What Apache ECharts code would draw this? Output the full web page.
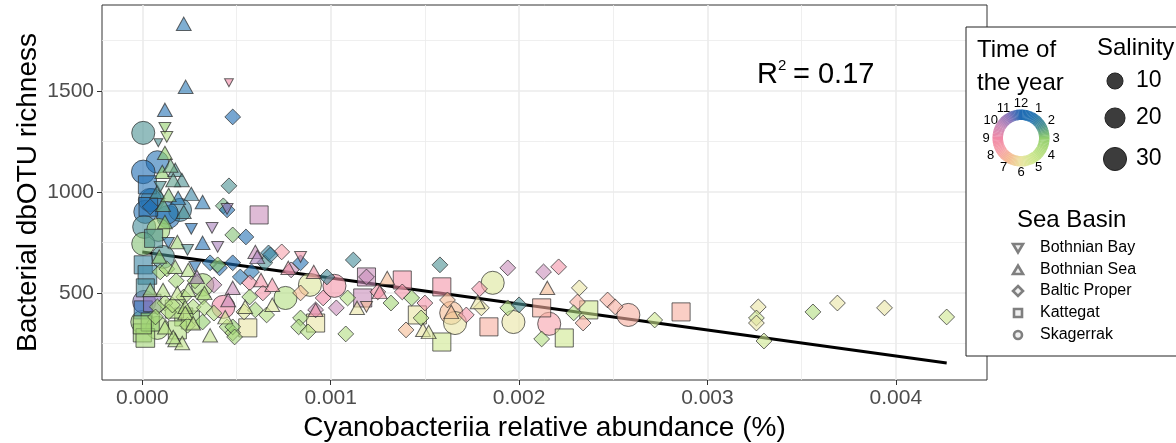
<!DOCTYPE html>
<html><head><meta charset="utf-8">
<script src="https://cdn.jsdelivr.net/npm/echarts@6/dist/echarts.min.js"></script>
<style>html,body{margin:0;padding:0;background:#fff}#c{width:1176px;height:443px}</style>
</head><body><div id="c"></div>
<script>
// ---------- axes ----------
const xRange = [-0.000214, 0.004484];
const yRange = [69, 1925];
const xTicks = [0, 0.001, 0.002, 0.003, 0.004];
const xTickLabels = ['0.000', '0.001', '0.002', '0.003', '0.004'];
const xMinor = [0.0005, 0.0015, 0.0025, 0.0035];
const yTicks = [500, 1000, 1500];
const yTickLabels = ['500', '1000', '1500'];
const yMinor = [250, 750, 1250, 1750];

// ---------- data: [relative abundance, richness, month, salinity] ----------
const bothnianBay = [
  [0.00046,1540,9,2],[0.00012,1317,3,3],[0.00013,1272,4,3],[0.000085,1243,2,2],
  [0.000095,1025,2,3],[0.00045,916,10.5,3],[0.00026,817,12,3],[0.00037,822,10.5,3],
  [0.000138,748,1,3],[0.0004,728,10.5,3],[0.00024,713,2,3],[0.00028,629,12.5,3],
  [0.00084,678,8.5,3],[0.00119,431,7,3]
];
const bothnianSea = [
  [0.00022,1832,1,5],[0.00023,1520,1,5],[0.00012,1406,12.5,5],[0.00012,1193,3,5],
  [0.000106,1099,3,5],[0.000175,1109,2,5],[0.00021,1059,2,5],[0.000164,1059,2.2,5],
  [0.00019,970,1,5],[0.00032,950,1,5],[0.00011,936,2.5,5],[0.00022,901,2,5],
  [0.00012,851,3,5],[0.000186,752,3.5,5],[0.00032,748,12.5,5],[0.000175,629,3.5,5],
  [0.000244,614,4,5],[0.00029,579,10.5,5],[0.00048,525,10,5],[0.000042,515,4,5],
  [0.00011,515,4,5],[0.000186,500,4.5,5],[0.000244,515,4,5],[0.000456,465,10,5],
  [0.000228,431,4,5],[0.000228,401,4.5,5],[0.000175,267,4,5],[0.000212,252,4.5,5],
  [0.000164,282,4,5],[0.000546,431,5.5,5],[0.0006,703,10,5],[0.00061,678,10.5,5],
  [0.000775,624,8.5,5],[0.00091,604,8.5,5],[0.00063,564,8.5,5],[0.00069,540,8.5,5],
  [0.00069,441,5.5,5],[0.00114,426,6,5],[0.00092,416,8.5,5],[0.0013,574,7,5],
  [0.00126,505,8.5,5],[0.00149,317,6,5],[0.00152,307,5.5,5],[0.00164,406,7,5],
  [0.00178,455,6,5],[0.00215,525,7,5],
  [0.00015,1130,2.5,5],[0.00008,1000,2,5],[0.00014,985,2.8,5],[0.00026,990,1.5,5],
  [0.00009,680,3,5],[0.00033,500,4,5],[0.00027,350,4.5,5],[0.00012,330,4,5],
  [0.00036,290,4.5,5],[0.00044,380,5,5]
];
const balticProper = [
  [0.00048,1371,12,7],[0.00046,1030,2,7],[0.00043,931,2.5,7],[0.00045,911,12.5,7],
  [0.000042,926,12.5,7],[0.00048,787,2.8,7],[0.00055,777,12.5,7],[0.00036,649,1,7],
  [0.00041,624,12.5,7],[0.00048,649,12,7],[0.00052,579,1,7],[0.0004,639,3,7],
  [0.000095,604,3.5,7],[0.00013,619,3.5,7],[0.00038,540,10,7],[0.00012,450,4,7],
  [0.00008,431,3.5,7],[0.00014,406,4,7],[0.00022,480,4,7],[0.00027,431,4,7],
  [0.00032,480,3.5,7],[0.00033,426,4,7],[0.00007,381,3.5,7],[0.00045,332,3.5,7],
  [0.00048,302,4,7],[0.00054,406,5.5,7],[0.00032,356,3,7],[0.00074,703,8,7],
  [0.00067,698,1.5,7],[0.00065,649,2,7],[0.00084,649,12.5,7],[0.00079,614,10,7],
  [0.00098,579,1.8,7],[0.00112,663,1.8,7],[0.00119,579,10,7],[0.00125,505,8.5,7],
  [0.00058,604,1,7],[0.00057,550,8.5,7],[0.00064,500,8.5,7],[0.00057,480,3.5,7],
  [0.0006,416,3.5,7],[0.00084,500,7,7],[0.00096,475,9,7],[0.00103,426,10,7],
  [0.00109,475,4,7],[0.00084,376,3.5,7],[0.00083,332,3.5,7],[0.00088,307,4,7],
  [0.00108,297,4,7],[0.00066,391,4,7],[0.00048,332,3,7],[0.00049,282,3.5,7],
  [0.00092,416,10,7],[0.00138,505,8.5,7],[0.00132,450,3.5,7],[0.00158,639,2,7],
  [0.00162,465,7,7],[0.00172,391,8.5,7],[0.00143,475,3.5,7],[0.0015,450,8.5,7],
  [0.00148,376,4,7],[0.0014,317,7,7],[0.00194,624,10,7],[0.00179,520,8.5,7],
  [0.0018,426,6,7],[0.00194,426,4,7],[0.002,441,2,7],[0.00213,604,10,7],
  [0.00221,629,8.5,7],[0.00212,272,4,7],[0.00232,525,6,7],[0.00231,455,7.5,7],
  [0.00229,401,4,7],[0.00234,351,7.5,7],[0.00247,465,7.5,7],[0.00251,431,7.5,7],
  [0.00272,366,5,7],[0.00327,431,6,7],[0.00326,376,5,7],[0.00326,351,6,7],
  [0.0033,262,5,7],[0.00356,406,4,7],[0.00369,450,6,7],[0.00394,426,6,7],
  [0.00427,381,5,7],[0.00068,688,1.5,7],
  [0.00018,560,3.5,7],[0.00028,560,3.8,7],[0.00024,340,4,7],[0.00016,440,4,7],[0.00038,400,4,7]
];
const kattegat = [
  [0.000027,1035,12.5,20],[0.000032,926,12.5,22],[0.00062,886,10,20],[0.000005,639,1.5,20],
  [0.000027,589,1.5,22],[0.000016,525,1.8,20],[0.000005,416,12.5,20],[0.000053,450,11,18],
  [0.00022,381,3.5,20],[0.000255,366,3.5,20],[0.0,302,3.5,20],[0.000016,277,3.5,22],
  [0.000186,317,4,20],[0.00056,327,6,20],[0.00092,351,6,20],[0.00117,475,10,20],
  [0.00119,579,10,20],[0.00138,564,8.5,20],[0.00159,530,8.5,20],[0.00146,391,6,20],
  [0.00159,257,5,20],[0.00184,332,7.5,20],[0.00212,426,7.5,20],[0.00237,416,5,20],
  [0.00224,277,5,20],[0.00286,406,7.5,20],[0.000042,356,3,20],[0.0,342,3.5,20],
  [0.00017,420,4,20],[0.00006,770,2,20]
];
const skagerrak = [
  [0.000005,1292,2,30],[0.00008,1148,12.5,28],[0.000005,1099,12,32],[0.000053,960,1.5,30],
  [0.000016,901,12.5,30],[0.00004,960,1,30],[0.000138,876,12.5,30],[0.0002,911,1.5,30],
  [0.00013,896,1,28],[0.00001,827,1.8,30],[0.000085,812,3.5,30],[0.000005,743,2.8,30],
  [0.00011,678,2,30],[0.00032,540,3.5,28],[0.00043,431,9,30],[0.0,356,3.5,30],
  [0.00008,327,4,30],[0.00089,540,5.5,30],[0.00102,535,8.5,30],[0.00076,475,4,30],
  [0.00164,401,7,30],[0.00166,351,6,30],[0.00186,550,5.5,30],[0.00197,356,6,30],
  [0.00216,347,8,30],[0.00258,391,7.5,30],[0.00001,455,11,30]
];
// linear fit endpoints
const fitLine = [[0, 702], [0.00427, 153]];
const rSquared = '0.17';

// legend content
const months = [1,2,3,4,5,6,7,8,9,10,11,12];
const salinityLegend = [10, 20, 30];
const basinNames = ['Bothnian Bay', 'Bothnian Sea', 'Baltic Proper', 'Kattegat', 'Skagerrak'];

// ---------- styling helpers ----------
const FONT = '"Liberation Sans", Arial, Helvetica, sans-serif';
const monthAnchors = ['#1d6ab3','#2a78b4','#4b9192','#92ce6d','#b3dd81','#cee78f',
                      '#eae5a3','#f5bb92','#f6a1ab','#f188a6','#ca8dba','#8874ba'];
function hexToRgb(h){ return [parseInt(h.slice(1,3),16),parseInt(h.slice(3,5),16),parseInt(h.slice(5,7),16)]; }
function monthRGB(m){
  const t = ((m % 12) + 12) % 12; const i = Math.floor(t), f = t - i;
  const a = hexToRgb(monthAnchors[i]), b = hexToRgb(monthAnchors[(i+1)%12]);
  return a.map((v,k)=>Math.round(v + (b[k]-v)*f));
}
function monthColor(m, alpha){ const c = monthRGB(m); return `rgba(${c[0]},${c[1]},${c[2]},${alpha})`; }
function diam(s){ return 8 + 15.6*Math.sqrt(Math.max(0, s-2)/30); }

function scatter(name, data, symbol, factor, rotate, aspect){
  return {
    type:'scatter', name, data, symbol, symbolRotate: rotate || 0,
    symbolSize: v => { const d = diam(v[3])*factor; return aspect ? [d, d*aspect] : d; },
    itemStyle:{ color: p => monthColor(p.data[2], 0.75), borderColor:'rgba(45,45,45,0.9)', borderWidth:1 },
    emphasis:{ disabled:true }, silent:true, z:3
  };
}

// ---------- legend graphics ----------
const g = [];
g.push({type:'rect', shape:{x:966, y:27, width:240, height:329}, style:{fill:'#fff', stroke:'#222', lineWidth:1}, z:100});
function txt(text, x, y, size, align, color){
  return {type:'text', z:102, style:{text, x, y, fontSize:size, fontFamily:FONT, fill:color||'#000',
    align:align||'left', textAlign:align||'left', verticalAlign:'middle', textVerticalAlign:'middle'}};
}
g.push(txt('Time of', 977, 50, 24));
g.push(txt('the year', 977, 83, 24));
const rcx = 1021, rcy = 138, R = 28.5, R0 = 18;
for (let k = 0; k < 120; k++){
  const m0 = k/10, m1 = (k+1)/10;
  const a0 = m0/12*2*Math.PI - Math.PI/2, a1 = m1/12*2*Math.PI - Math.PI/2 + 0.012;
  g.push({type:'sector', z:101, shape:{cx:rcx, cy:rcy, r:R, r0:R0, startAngle:a0, endAngle:a1, clockwise:true},
          style:{fill: monthColor((m0+m1)/2, 1)}});
}
months.forEach(m => {
  const a = m/12*2*Math.PI - Math.PI/2;
  g.push(txt(String(m), rcx + 35*Math.cos(a), rcy + 34.5*Math.sin(a), 13, 'center'));
});
g.push(txt('Salinity', 1097, 48, 24));
const salY = [81, 118, 159];
salinityLegend.forEach((s, i) => {
  g.push({type:'circle', z:101, shape:{cx:1115, cy:salY[i], r:diam(s)/2}, style:{fill:'rgba(50,50,50,0.95)', stroke:'#222', lineWidth:1}});
  g.push(txt(String(s), 1136, salY[i], 23));
});
g.push(txt('Sea Basin', 1017, 220, 24));
const bY = [248, 270, 291, 313, 335];
const lgStyle = {fill:'rgba(127,127,127,0.12)', stroke:'#7f7f7f', lineWidth:2.6};
const sx = 1018;
g.push({type:'polygon', z:101, shape:{points:[[sx-5,bY[0]-4],[sx+5,bY[0]-4],[sx,bY[0]+4.5]]}, style:lgStyle});
g.push({type:'polygon', z:101, shape:{points:[[sx-5,bY[1]+4],[sx+5,bY[1]+4],[sx,bY[1]-4.5]]}, style:lgStyle});
g.push({type:'polygon', z:101, shape:{points:[[sx,bY[2]-5],[sx+5,bY[2]],[sx,bY[2]+5],[sx-5,bY[2]]]}, style:lgStyle});
g.push({type:'rect', z:101, shape:{x:sx-4, y:bY[3]-4, width:8, height:8}, style:lgStyle});
g.push({type:'circle', z:101, shape:{cx:sx, cy:bY[4], r:4}, style:lgStyle});
basinNames.forEach((n, i) => g.push(txt(n, 1040, bY[i], 16, 'left', '#000')));
// R squared annotation
g.push(txt('R', 757, 75, 29));
g.push(txt('2', 778, 66, 15));
g.push(txt('= ' + rSquared, 793, 75, 29));

// ---------- chart ----------
const near = (arr, v) => arr.findIndex(t => Math.abs(t - v) < 1e-9);
const option = {
  animation:false,
  backgroundColor:'#fff',
  grid:{left:102, right:189, top:5, bottom:63, containLabel:false, outerBoundsMode:'none',
        show:true, borderColor:'#333', borderWidth:1, backgroundColor:'#fff'},
  xAxis:[{
    type:'value', min:xRange[0], max:xRange[1], position:'bottom',
    axisLine:{show:false, onZero:false},
    axisTick:{show:true, customValues:xTicks, length:5, lineStyle:{color:'#333', width:1}},
    axisLabel:{customValues:xTicks, formatter:v => xTickLabels[near(xTicks, v)] || '', fontSize:21, color:'#4d4d4d', margin:8, fontFamily:FONT},
    splitLine:{show:true, lineStyle:{color:'#ebebeb', width:1.6}},
    name:'Cyanobacteriia relative abundance (%)', nameLocation:'middle', nameGap:34,
    nameTextStyle:{fontSize:28, color:'#000', fontFamily:FONT}
  },{
    type:'value', min:xRange[0], max:xRange[1], position:'bottom',
    axisLine:{show:false, onZero:false}, axisTick:{show:false, customValues:xMinor}, axisLabel:{show:false, customValues:xMinor},
    splitLine:{show:true, lineStyle:{color:'#ebebeb', width:0.8}}
  }],
  yAxis:[{
    type:'value', min:yRange[0], max:yRange[1], position:'left',
    axisLine:{show:false, onZero:false},
    axisTick:{show:true, customValues:yTicks, length:5, lineStyle:{color:'#333', width:1}},
    axisLabel:{customValues:yTicks, formatter:v => yTickLabels[near(yTicks, v)] || '', fontSize:21, color:'#4d4d4d', margin:8, fontFamily:FONT},
    splitLine:{show:true, lineStyle:{color:'#ebebeb', width:1.6}},
    name:'Bacterial dbOTU richness', nameLocation:'middle', nameGap:60, nameMoveOverlap:false,
    nameTextStyle:{fontSize:28, color:'#000', fontFamily:FONT}
  },{
    type:'value', min:yRange[0], max:yRange[1], position:'left',
    axisLine:{show:false, onZero:false}, axisTick:{show:false, customValues:yMinor}, axisLabel:{show:false, customValues:yMinor},
    splitLine:{show:true, lineStyle:{color:'#ebebeb', width:0.8}}
  }],
  series:[
    {type:'line', data:fitLine, showSymbol:false, silent:true, lineStyle:{color:'#000', width:3}, z:2},
    scatter('Skagerrak', skagerrak, 'circle', 1.0),
    scatter('Kattegat', kattegat, 'rect', 0.9),
    scatter('Baltic Proper', balticProper, 'diamond', 1.1),
    scatter('Bothnian Sea', bothnianSea, 'triangle', 1.15, 0, 0.9),
    scatter('Bothnian Bay', bothnianBay, 'triangle', 1.1, 180, 0.9)
  ],
  graphic:{elements:g}
};
const chart = echarts.init(document.getElementById('c'), null, {renderer:'canvas'});
chart.setOption(option);
</script></body></html>
